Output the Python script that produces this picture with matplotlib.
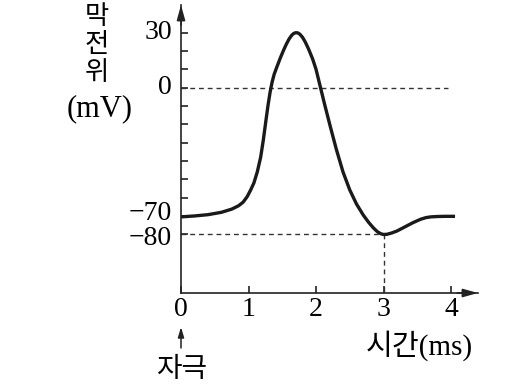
import matplotlib
matplotlib.use("Agg")
import matplotlib.pyplot as plt

# ---- data ----
time_ms = [0.00, 0.20, 0.40, 0.60, 0.75, 0.85, 0.92, 0.98, 1.03, 1.08, 1.13, 1.18, 1.22,
           1.26, 1.29, 1.32, 1.35, 1.38, 1.42, 1.47, 1.52, 1.56, 1.60, 1.64, 1.67, 1.70,
           1.73, 1.76, 1.80, 1.84, 1.89, 1.95, 2.00, 2.06, 2.13, 2.21, 2.30, 2.40, 2.50,
           2.60, 2.70, 2.78, 2.85, 2.91, 2.96, 3.00, 3.05, 3.12, 3.20, 3.32, 3.44, 3.55,
           3.63, 3.70, 3.80, 3.92, 4.06]
voltage_mv = [-70.5, -70.0, -69.3, -68.0, -66.3, -64.5, -62.5, -59.5, -56.0, -52.0, -46.0, -38.0, -28.5,
              -17.5, -9.5, -2.5, 3.0, 7.2, 11.2, 16.0, 20.4, 23.6, 26.4, 28.5, 29.5, 29.9,
              29.8, 29.1, 27.4, 24.9, 21.0, 15.6, 10.0, 1.0, -9.5, -21.0, -33.5, -46.0, -55.8,
              -63.5, -69.5, -73.5, -76.5, -78.6, -79.7, -80.1, -80.0, -79.3, -78.2, -75.9, -73.6, -71.8,
              -70.9, -70.5, -70.3, -70.2, -70.2]

x_ticks = [0, 1, 2, 3, 4]
x_tick_labels = ["0", "1", "2", "3", "4"]
y_minor_ticks = [30, 20, 10, 0, -10, -20, -30, -40, -50, -60, -70, -80]
y_labelled = [30, 0]
y_labelled_text = ["30", "0"]
rest_potential = -70
hyper_potential = -80
hyper_time = 3
zero_line_end = 3.96

serif = ["Liberation Serif", "DejaVu Serif"]
kor = ["Noto Sans CJK KR", "DejaVu Sans"]
mixed = ["Liberation Serif", "Noto Sans CJK KR", "DejaVu Sans"]
NUM_FS = 20

fig = plt.figure(figsize=(5.24, 3.89), dpi=100)
ax = fig.add_axes([181 / 524, 1 - 293 / 389, 297 / 524, 288 / 389])
ax.set_xlim(0, 4.4)
ax.set_ylim(-112, 45)

for s in ["top", "right"]:
    ax.spines[s].set_visible(False)
for s in ["left", "bottom"]:
    ax.spines[s].set_linewidth(1.2)
    ax.spines[s].set_color("#222222")

# arrow heads
ax.annotate("", xy=(1.0, 0), xytext=(0.93, 0), xycoords="axes fraction",
            arrowprops=dict(arrowstyle="-|>,head_length=0.9,head_width=0.25",
                            color="#222222", lw=1.2, shrinkA=0, shrinkB=0), annotation_clip=False)
ax.annotate("", xy=(0, 1.0), xytext=(0, 0.93), xycoords="axes fraction",
            arrowprops=dict(arrowstyle="-|>,head_length=0.9,head_width=0.25",
                            color="#222222", lw=1.2, shrinkA=0, shrinkB=0), annotation_clip=False)

# dashed guide lines
dash = (0, (3.5, 2.8))
ax.plot([0, zero_line_end], [0, 0], color="#333333", lw=1.0, linestyle=dash)
ax.plot([0, hyper_time], [hyper_potential, hyper_potential], color="#333333", lw=1.0, linestyle=dash)
ax.plot([hyper_time, hyper_time], [hyper_potential, -112], color="#333333", lw=1.0, linestyle=dash)

# curve
ax.plot(time_ms, voltage_mv, color="#1a1a1a", lw=2.4, solid_joinstyle="round",
        solid_capstyle="butt", clip_on=False)

# ticks
ax.set_xticks(x_ticks)
ax.set_xticklabels(x_tick_labels, fontfamily=serif, fontsize=NUM_FS)
ax.set_yticks(y_minor_ticks)
ax.set_yticklabels([""] * len(y_minor_ticks))
ax.tick_params(axis="both", direction="in", length=5, width=1.2, color="#222222")
ax.tick_params(axis="x", pad=3)
for v, t in zip(y_labelled, y_labelled_text):
    ax.annotate(t, xy=(0, v), xytext=(-6.5, 0), textcoords="offset points",
                ha="right", va="center", fontfamily=serif, fontsize=NUM_FS, annotation_clip=False)
ax.annotate("−70", xy=(0, rest_potential), xytext=(-6.5, 2), textcoords="offset points",
            ha="right", va="center", fontfamily=serif, fontsize=NUM_FS, annotation_clip=False)
ax.annotate("−80", xy=(0, hyper_potential), xytext=(-6.5, -3), textcoords="offset points",
            ha="right", va="center", fontfamily=serif, fontsize=NUM_FS, annotation_clip=False)

# axis titles
for ch, yy in zip(["막", "전", "위"], [373, 344.5, 316.5]):
    fig.text(97 / 524, yy / 389, ch, ha="center", va="center", fontfamily=kor, fontsize=19)
fig.text(100 / 524, 280 / 389, "(mV)", ha="center", va="center", fontfamily=serif, fontsize=22)
fig.text(419 / 524, 43.5 / 389, "시간(ms)", ha="center", va="center", fontfamily=mixed, fontsize=21)
fig.text(181.5 / 524, 20 / 389, "자극", ha="center", va="center", fontfamily=kor, fontsize=20)

# stimulus arrow
ax.annotate("", xy=(181 / 524, 62 / 389), xytext=(181 / 524, 41 / 389), xycoords="figure fraction",
            arrowprops=dict(arrowstyle="-|>,head_length=0.6,head_width=0.18",
                            color="#222222", lw=1.1, shrinkA=0, shrinkB=0))

fig.savefig("out.png", dpi=100)
